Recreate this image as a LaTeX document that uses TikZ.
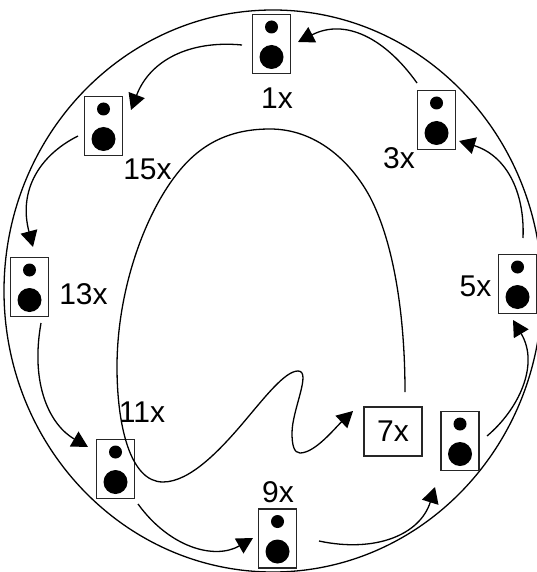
\documentclass[tikz,border=0pt]{standalone}
\usepackage{fontspec}
\setmainfont{Liberation Sans}
\usetikzlibrary{arrows.meta,calc}
\tikzset{
  boxline/.style={draw=black!85,line width=1.4pt,inner sep=0pt},
  spk/.style={boxline,minimum width=38pt,minimum height=59pt},
  seven/.style={boxline,minimum width=58pt,minimum height=49pt,font=\fontsize{30pt}{30pt}\selectfont},
  lab/.style={inner sep=0pt,font=\fontsize{30pt}{30pt}\selectfont,text height=20pt,text depth=0pt},
  flow/.style={line width=1.3pt,-{Triangle[length=16pt,width=17pt]}},
  dotc/.style={circle,fill=black,inner sep=0pt}
}
\newcommand{\spkr}[3]{%
  \node[spk] (#1) at (#2,#3) {};
  \node[dotc,minimum size=13pt] (#1a) at ($(#1)+(0,-17)$) {};
  \node[dotc,minimum size=24pt] (#1b) at ($(#1)+(0,13)$) {};
}
\begin{document}
\begin{tikzpicture}[x=1pt,y=-1pt]
\useasboundingbox (0,0) rectangle (537,572);
\path[fill=white] (0,0) rectangle (537,572);
\begin{scope}
\clip (0,0) rectangle (537,572);
\draw[line width=1.3pt] (273,291) ellipse [x radius=269,y radius=281];
\spkr{s1}{271.5}{44}
\spkr{s15}{103.5}{126}
\spkr{s13}{29.5}{287}
\spkr{s11}{115.5}{469}
\spkr{s9}{277.5}{538.5}
\spkr{s6}{460}{441}
\spkr{s5}{517.5}{284}
\spkr{s3}{436.5}{120}
\node[seven] (s7) at (393,431.5) {7x};
\node[lab] (l1) at (277,99) {1x};
\node[lab] (l15) at (147.5,169) {15x};
\node[lab] (l13) at (83.5,294) {13x};
\node[lab] (l3) at (399,158) {3x};
\node[lab] (l5) at (475.5,286) {5x};
\node[lab] (l11) at (142,412) {11x};
\node[lab] (l9) at (278,492) {9x};
\draw[flow] ($(s1)+(-29.5,1)$) .. controls (190,40) and (150,60) .. ($(s15)+(27.5,-16)$);
\draw[flow] ($(s15)+(-25.5,10)$) .. controls (40,155) and (18,190) .. ($(s13)+(3.5,-40)$);
\draw[flow] ($(s13)+(11.5,36)$) .. controls (30,385) and (50,425) .. ($(s11)+(-27.5,-22)$);
\draw[flow] ($(s11)+(22.5,35)$) .. controls (170,548) and (215,560) .. ($(s9)+(-24.5,-0.5)$);
\draw[flow] ($(s9)+(41.5,2.5)$) .. controls (375,553) and (420,535) .. ($(s6)+(-25,46)$);
\draw[flow] ($(s6)+(27,-5)$) .. controls (518,410) and (540,365) .. ($(s5)+(-4.5,36)$);
\draw[flow] ($(s5)+(5.5,-46)$) .. controls (525,190) and (505,155) .. ($(s3)+(22.5,21)$);
\draw[flow] ($(s3)+(-19.5,-37)$) .. controls (385,38) and (345,18) .. ($(s1)+(26.5,-2)$);
\draw[flow] ($(s7)+(12,-39.5)$)
  .. controls (405,320) and (395,245) .. (370,197)
  .. controls (350,160) and (315,129) .. (270,129)
  .. controls (235,129) and (205,140) .. (180,170)
  .. controls (145,212) and (117,290) .. (117,367)
  .. controls (117,425) and (130,482) .. (163,482)
  .. controls (190,482) and (220,450) .. (243,423)
  .. controls (265,397) and (285,371) .. (298,371)
  .. controls (312,371) and (292,410) .. (292,433)
  .. controls (292,445) and (294,453) .. (300,453)
  .. controls (315,453) and (335,428) .. ($(s7)+(-40,-20.5)$);
\end{scope}
\end{tikzpicture}
\end{document}
